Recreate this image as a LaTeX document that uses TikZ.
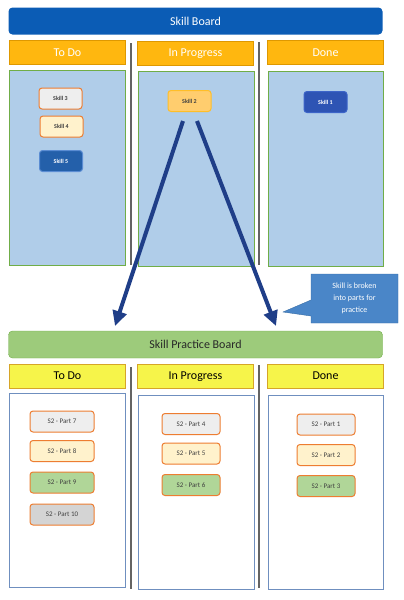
\documentclass[tikz,border=0pt]{standalone}
\usepackage{fontspec}
\setmainfont{Carlito}
\usetikzlibrary{arrows.meta}
\definecolor{boardBlue}{RGB}{11, 92, 181}
\definecolor{headOrange}{RGB}{255, 183, 15}
\definecolor{headOrangeLine}{RGB}{222, 152, 0}
\definecolor{panelBlue}{RGB}{176, 205, 233}
\definecolor{panelGreen}{RGB}{112, 173, 71}
\definecolor{boardGreen}{RGB}{157, 203, 123}
\definecolor{headYellow}{RGB}{246, 244, 74}
\definecolor{headYellowLine}{RGB}{214, 165, 40}
\definecolor{panelLine}{RGB}{111, 143, 191}
\definecolor{cardLine}{RGB}{237, 125, 49}
\definecolor{cardGray}{RGB}{238, 238, 238}
\definecolor{cardYellow}{RGB}{255, 242, 204}
\definecolor{cardGreen}{RGB}{176, 214, 152}
\definecolor{cardDark}{RGB}{212, 212, 212}
\definecolor{arrowBlue}{RGB}{31, 62, 136}
\definecolor{noteBlue}{RGB}{74, 134, 200}
\definecolor{textGray}{RGB}{64, 64, 64}

\begin{document}
\begin{tikzpicture}[x=1pt, y=-1pt,
    board/.style={rounded corners=4pt, inner sep=0pt, minimum width=374pt, minimum height=27pt,
      font=\fontsize{12}{14}\selectfont},
    head/.style={inner sep=0pt, minimum width=116pt, minimum height=24pt, font=\fontsize{12}{14}\selectfont},
    panel/.style={inner sep=0pt, anchor=north west},
    card/.style={rounded corners=3pt, draw=cardLine, line width=1pt, inner sep=0pt,
      minimum width=64pt, minimum height=21pt, text=textGray, font=\fontsize{7}{8}\selectfont},
    skill/.style={rounded corners=3pt, line width=1pt, inner sep=0pt,
      minimum width=43pt, minimum height=21pt, font=\fontsize{6}{7}\selectfont},
    flow/.style={draw=arrowBlue, line width=4pt, -{Triangle[length=15pt, width=14pt]}},
    sep/.style={draw={rgb,255:red,100;green,100;blue,100}, line width=1.5pt}]
    \useasboundingbox (0,0) rectangle (404,600);
    % top board
    \node[board, fill=boardBlue, text=white] (sb) at (195.5,21) {Skill Board};
    \node[head, fill=headOrange, draw=headOrangeLine, text=white] (th1) at (67.5,52.5) {To Do};
    \node[head, fill=headOrange, draw=headOrangeLine, text=white] (th2) at (195.5,53.5) {In Progress};
    \node[head, fill=headOrange, draw=headOrangeLine, text=white] (th3) at (325.5,52.5) {Done};
    \draw[sep] (131,43) -- (131,265);
    \draw[sep] (259,42) -- (259,265);
    \node[panel, fill=panelBlue, draw=panelGreen, minimum width=116pt, minimum height=195pt] (tp1) at (9,70) {};
    \node[panel, fill=panelBlue, draw=panelGreen, minimum width=116pt, minimum height=195pt] (tp2) at (138,71) {};
    \node[panel, fill=panelBlue, draw=panelGreen, minimum width=115pt, minimum height=195pt] (tp3) at (268,71) {};
    \node[skill, fill=cardGray, draw=cardLine, text=textGray] (s3) at (60.5,98.5) {\textbf{Skill 3}};
    \node[skill, fill=cardYellow, draw=cardLine, text=textGray] (s4) at (61.5,126.5) {\textbf{Skill 4}};
    \node[skill, fill={rgb,255:red,36;green,96;blue,170}, draw={rgb,255:red,90;green,140;blue,210}, text=white] (s5) at (61,161) {\textbf{Skill 5}};
    \node[skill, fill={rgb,255:red,255;green,205;blue,110}, draw={rgb,255:red,255;green,190;blue,40}, text=textGray] (s2) at (189.5,101) {\textbf{Skill 2}};
    \node[skill, fill={rgb,255:red,46;green,84;blue,180}, draw={rgb,255:red,60;green,100;blue,200}, text=white] (s1) at (325.5,102) {\textbf{Skill 1}};
    % arrows and note
    \coordinate (a1) at (183,121);
    \coordinate (a2) at (197,121);
    \coordinate (b1) at (115,326);
    \coordinate (b2) at (276,326);
    \draw[flow] (a1) -- (b1);
    \draw[flow] (a2) -- (b2);
    \draw[fill=noteBlue, draw={rgb,255:red,58;green,110;blue,165}]
      (311,274) -- (398,274) -- (398,323) -- (311,323) -- (311,316) -- (283,312) -- (311,300) -- cycle;
    \node[align=center, text=white, font=\fontsize{8}{12}\selectfont] (note) at (354.5,298.5)
      {Skill is broken\\into parts for\\practice};
    % practice board
    \node[board, fill=boardGreen, draw=panelGreen, text={rgb,255:red,40;green,40;blue,40}] (pb) at (195.5,344.5) {Skill Practice Board};
    \node[head, fill=headYellow, draw=headYellowLine] (bh1) at (67.5,376) {To Do};
    \node[head, fill=headYellow, draw=headYellowLine] (bh2) at (195.5,376.5) {In Progress};
    \node[head, fill=headYellow, draw=headYellowLine] (bh3) at (325.5,376) {Done};
    \draw[sep] (131,367) -- (131,589);
    \draw[sep] (259,365) -- (259,588);
    \node[panel, fill=white, draw=panelLine, line width=0.8pt, minimum width=116pt, minimum height=194pt] (bp1) at (9,393) {};
    \node[panel, fill=white, draw=panelLine, line width=0.8pt, minimum width=116pt, minimum height=194pt] (bp2) at (138,395) {};
    \node[panel, fill=white, draw=panelLine, line width=0.8pt, minimum width=115pt, minimum height=194pt] (bp3) at (268,395) {};
    \node[card, fill=cardGray] (p7) at (62,421.5) {S2 - Part 7};
    \node[card, fill=cardYellow] (p8) at (62,451) {S2 - Part 8};
    \node[card, fill=cardGreen] (p9) at (62,482.5) {S2 - Part 9};
    \node[card, fill=cardDark] (p10) at (62,514.5) {S2 - Part 10};
    \node[card, fill=cardGray, minimum width=58pt] (p4) at (191,424) {S2 - Part 4};
    \node[card, fill=cardYellow, minimum width=58pt] (p5) at (191,453.5) {S2 - Part 5};
    \node[card, fill=cardGreen, minimum width=58pt] (p6) at (191,485) {S2 - Part 6};
    \node[card, fill=cardGray, minimum width=58pt] (p1) at (326,424.5) {S2 - Part 1};
    \node[card, fill=cardYellow, minimum width=58pt] (p2) at (326,455) {S2 - Part 2};
    \node[card, fill=cardGreen, minimum width=58pt] (p3) at (326,486) {S2 - Part 3};
  \end{tikzpicture}
\end{document}
